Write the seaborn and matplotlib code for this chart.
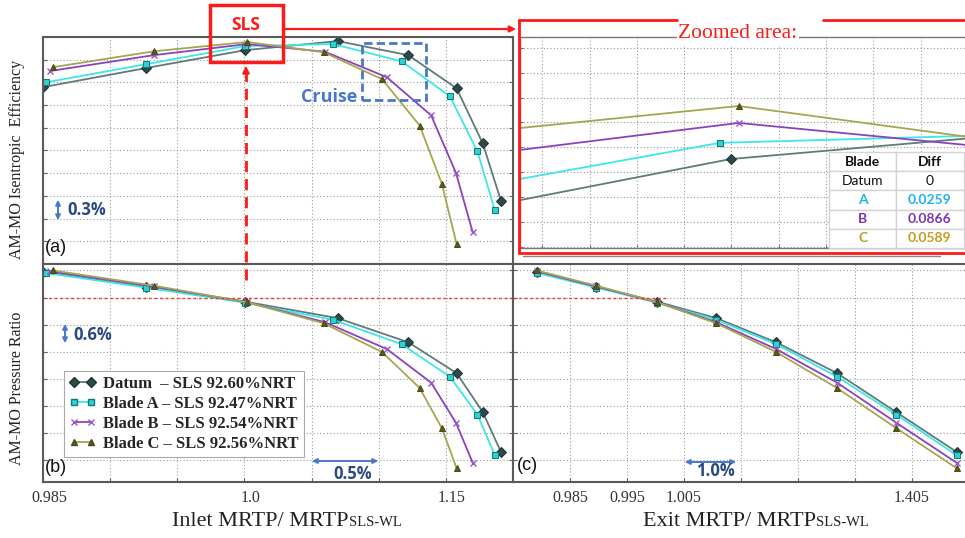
import numpy as np
import pandas as pd
import matplotlib
matplotlib.use("Agg")
import matplotlib.pyplot as plt
import matplotlib.transforms as mtransforms
import seaborn as sns
from matplotlib.lines import Line2D
from matplotlib.patches import Rectangle, FancyArrowPatch

sns.set_theme(style="white")
plt.rcParams['font.family'] = ['Liberation Serif', 'DejaVu Serif']

W, H = 965, 538

# ---- data (in grid units) ----
blades = ['Datum', 'Blade A', 'Blade B', 'Blade C']
legend_labels = ['Datum  – SLS 92.60%NRT', 'Blade A – SLS 92.47%NRT',
                 'Blade B – SLS 92.54%NRT', 'Blade C – SLS 92.56%NRT']

# inlet MRTP positions (one gridline = one unit)
inlet_datum = [0.00, 1.53, 3.01, 4.39, 5.44, 6.16, 6.55, 6.82]
inlet_a = [0.04, 1.53, 3.01, 4.32, 5.34, 6.06, 6.47, 6.73]
inlet_b = [0.10, 1.65, 3.04, 4.20, 5.12, 5.78, 6.15, 6.40]
inlet_c = [0.15, 1.65, 3.04, 4.18, 5.05, 5.61, 5.94, 6.16]
# exit MRTP positions
exit_pos = [0.42, 1.46, 2.53, 3.57, 4.62, 5.69, 6.73, 7.79]

# isentropic efficiency
eff_datum = [7.79, 8.63, 9.42, 9.82, 9.20, 7.74, 5.31, 2.79]
eff_a = [8.00, 8.80, 9.60, 9.69, 8.93, 7.39, 4.96, 2.36]
eff_b = [8.50, 9.20, 9.69, 9.35, 8.23, 6.55, 4.02, 1.40]
eff_c = [8.67, 9.37, 9.78, 9.33, 8.14, 6.10, 3.54, 0.88]

# pressure ratio
pr_datum = [6.95, 6.40, 5.85, 5.24, 4.35, 3.21, 1.77, 0.30]
pr_a = [6.91, 6.37, 5.81, 5.18, 4.28, 3.08, 1.68, 0.18]
pr_b = [6.97, 6.41, 5.83, 5.09, 4.10, 2.86, 1.38, -0.10]
pr_c = [7.00, 6.44, 5.83, 5.05, 3.99, 2.66, 1.18, -0.30]

# zoomed area (SLS point)
zoom_x_datum = [-0.5, 3.98, 9.0]
zoom_x_a = [-0.5, 3.75, 9.0]
zoom_x_b = [-0.5, 4.15, 9.0]
zoom_x_c = [-0.5, 4.15, 9.0]
zoom_datum = [1.87, 3.53, 4.36]
zoom_a = [2.72, 4.18, 4.46]
zoom_b = [3.89, 4.98, 4.09]
zoom_c = [4.77, 5.66, 4.42]

table_blade = ['Datum', 'A', 'B', 'C']
table_diff = ['0', '0.0259', '0.0866', '0.0589']

inlet_ticks = ['0.985', '', '', '1.0', '', '', '1.15', '']
exit_ticks = ['0.985', '0.995', '1.005', '', '', '', '1.405']

# ---- styles ----
styles = {
    'Datum': dict(color='#5f7b7a', marker='D', markersize=5.5, markerfacecolor='#2d4a48', markeredgecolor='#1e3534'),
    'Blade A': dict(color='#3ee6e6', marker='s', markersize=5, markerfacecolor='#33d0d0', markeredgecolor='#0d7c80'),
    'Blade B': dict(color='#8a43bd', marker='x', markersize=5, markeredgewidth=1.0, markeredgecolor='#9a55cc'),
    'Blade C': dict(color='#a6a650', marker='^', markersize=5, markerfacecolor='#5a5a1c', markeredgecolor='#4a4a14'),
}
inlet = dict(zip(blades, [inlet_datum, inlet_a, inlet_b, inlet_c]))
eff = dict(zip(blades, [eff_datum, eff_a, eff_b, eff_c]))
pr = dict(zip(blades, [pr_datum, pr_a, pr_b, pr_c]))
zx = dict(zip(blades, [zoom_x_datum, zoom_x_a, zoom_x_b, zoom_x_c]))
zy = dict(zip(blades, [zoom_datum, zoom_a, zoom_b, zoom_c]))

fig = plt.figure(figsize=(W / 100, H / 100), dpi=100)


def fx(x):
    return x / W


def fy(y):
    return 1 - y / H


def add_ax(x0, y0, x1, y1):
    return fig.add_axes([fx(x0), fy(y1), (x1 - x0) / W, (y1 - y0) / H])


def style_ax(ax, frame='#5a5a5a', lw=1.5):
    ax.grid(True, linestyle=(0, (1, 2)), color='#9a9a9a', linewidth=0.8)
    for s in ax.spines.values():
        s.set_color(frame)
        s.set_linewidth(lw)
    ax.tick_params(direction='in', length=3, width=0.8, color='#666',
                   left=True, right=True, bottom=True, labelsize=11.5,
                   labelcolor='#333')


ax_a = add_ax(43, 37, 513, 264)
ax_b = add_ax(43, 264, 513, 482)
ax_c = add_ax(513, 264, 968, 482)
ax_z = add_ax(520, 37, 968, 248)

for b in blades:
    kw = styles[b]
    sns.lineplot(x=inlet[b], y=eff[b], ax=ax_a, sort=False, estimator=None,
                 linewidth=1.3, legend=False, **kw)
    sns.lineplot(x=inlet[b], y=pr[b], ax=ax_b, sort=False, estimator=None,
                 linewidth=1.3, legend=False, **kw)
    sns.lineplot(x=exit_pos, y=pr[b], ax=ax_c, sort=False, estimator=None,
                 linewidth=1.3, legend=False, **kw)
    sns.lineplot(x=zx[b], y=zy[b], ax=ax_z, sort=False, estimator=None,
                 linewidth=1.3, legend=False, markevery=[1], **kw)

# panel (a)
style_ax(ax_a)
ax_a.set_xlim(0, 7)
ax_a.set_ylim(0, 10)
ax_a.set_xticks(range(8))
ax_a.set_yticks(range(11))
ax_a.set_xticklabels([])
ax_a.set_yticklabels([])
ax_a.tick_params(bottom=False)

# panel (b)
style_ax(ax_b)
ax_b.set_xlim(0, 7)
ax_b.set_ylim(-0.81, 7.24)
ax_b.set_xticks(range(8))
ax_b.set_xticklabels(inlet_ticks)
ax_b.set_yticks(range(8))
ax_b.set_yticklabels([])
ax_b.tick_params(axis='x', pad=6)
ax_b.axhline(6, color='#ff3030', linestyle=(0, (2, 2)), linewidth=1.0)
for lab in ax_b.get_xticklabels():
    lab.set_transform(lab.get_transform() + mtransforms.ScaledTranslation(0.06, 0, fig.dpi_scale_trans))

# panel (c)
style_ax(ax_c)
ax_c.set_xlim(0, 7.99)
ax_c.set_ylim(-0.81, 7.24)
ax_c.set_xticks(range(1, 8))
ax_c.set_xticklabels(exit_ticks)
ax_c.set_yticks(range(8))
ax_c.set_yticklabels([])
ax_c.tick_params(axis='x', pad=6, right=False)
ax_c.plot([0, 2.68], [6, 6], color='#ff3030', linestyle=(0, (2, 2)), linewidth=1.0)

# zoomed area
style_ax(ax_z, frame='#777777', lw=1.0)
ax_z.set_xlim(-0.47, 9.0)
ax_z.set_ylim(-0.04, 8.43)
ax_z.set_xticks(range(9))
ax_z.set_yticks(range(9))
ax_z.set_xticklabels([])
ax_z.set_yticklabels([])
ax_z.tick_params(length=2)

tbl = ax_z.table(cellText=[['Blade', 'Diff']] + [[b, d] for b, d in zip(table_blade, table_diff)],
                 cellLoc='center', bbox=[0.69, 0.0, 0.30, 0.455], zorder=5)
tbl.auto_set_font_size(False)
txt_colors = ['#111', '#111', '#1fb0f0', '#7a35b0', '#c99a1e']
for (r, c), cell in tbl.get_celld().items():
    cell.set_edgecolor('#d3d3d3')
    cell.set_facecolor('white')
    t = cell.get_text()
    t.set_fontsize(10)
    t.set_fontfamily(['Lato', 'DejaVu Sans'])
    t.set_color(txt_colors[r])
    if r == 0 or r >= 2:
        t.set_fontweight('bold')

# legend
handles = [Line2D([], [], linewidth=1.3, **styles[b]) for b in blades]
leg = ax_b.legend(handles, legend_labels, loc='upper left', bbox_to_anchor=(0.045, 0.51),
                  frameon=True, fancybox=False, edgecolor='#aaaaaa', framealpha=1,
                  prop=dict(family='Liberation Serif', weight='bold', size=12),
                  numpoints=2, handlelength=1.6, handletextpad=0.45, labelspacing=0.25,
                  borderpad=0.3, borderaxespad=0)
leg.get_frame().set_linewidth(0.8)

# axis labels
fig.text(fx(17), fy(159), 'AM-MO Isentropic  Efficiency', rotation=90, ha='center', va='center',
         fontsize=11.5, color='#222')
fig.text(fx(17), fy(388), 'AM-MO Pressure Ratio', rotation=90, ha='center', va='center',
         fontsize=11.5, color='#222')
t1 = fig.text(fx(172), fy(522), 'Inlet MRTP/ MRTP', ha='left', va='center', fontsize=16, color='#222')
ax_b.annotate('SLS-WL', xy=(1, 0.12), xycoords=t1, ha='left', va='bottom', fontsize=10.5, color='#222',
              annotation_clip=False)
t2 = fig.text(fx(643), fy(522), 'Exit MRTP/ MRTP', ha='left', va='center', fontsize=16, color='#222')
ax_c.annotate('SLS-WL', xy=(1, 0.12), xycoords=t2, ha='left', va='bottom', fontsize=10.5, color='#222',
              annotation_clip=False)

# panel letters
for (x, y, s) in [(45, 248, '(a)'), (45, 468, '(b)'), (517, 466, '(c)')]:
    fig.text(fx(x), fy(y), s, ha='left', va='center', fontsize=13,
             family=['Liberation Sans', 'DejaVu Sans'], color='#111')

# blue scale annotations
blue = '#4a78c8'
navy = '#2b4a80'
sans = ['Open Sans', 'DejaVu Sans']


def darrow(x0, y0, x1, y1):
    fig.add_artist(FancyArrowPatch((fx(x0), fy(y0)), (fx(x1), fy(y1)), transform=fig.transFigure,
                                   arrowstyle='<|-|>', mutation_scale=7, color=blue, linewidth=1.4))


darrow(58, 197, 58, 223)
fig.text(fx(67), fy(210), '0.3%', ha='left', va='center', fontsize=12, weight='bold', color=navy, family=sans)
darrow(65, 321, 65, 346)
fig.text(fx(73), fy(335), '0.6%', ha='left', va='center', fontsize=12, weight='bold', color=navy, family=sans)
darrow(309, 461, 381, 461)
fig.text(fx(353), fy(474), '0.5%', ha='center', va='center', fontsize=12, weight='bold', color=navy, family=sans)
darrow(682, 462, 739, 462)
fig.text(fx(715), fy(471), '1.0%', ha='center', va='center', fontsize=12, weight='bold', color=navy, family=sans)

# Cruise box
fig.add_artist(Rectangle((fx(362), fy(100)), (426 - 362) / W, (100 - 43) / H, transform=fig.transFigure,
                         fill=False, edgecolor=blue, linewidth=2, linestyle=(0, (3, 1.5))))
fig.text(fx(357), fy(97), 'Cruise', ha='right', va='center', fontsize=13, weight='bold', color=blue, family=sans)

# SLS box and red connectors
red = '#ff1a1a'
fig.add_artist(Rectangle((fx(210), fy(62)), (283 - 210) / W, (62 - 5) / H, transform=fig.transFigure,
                         fill=False, edgecolor=red, linewidth=2.5, zorder=10))
fig.text(fx(246), fy(25), 'SLS', ha='center', va='center', fontsize=12.5, weight='bold', color=red, family=sans)
fig.add_artist(FancyArrowPatch((fx(283), fy(29)), (fx(519), fy(29)), transform=fig.transFigure,
                               arrowstyle='-|>', mutation_scale=9, color=red, linewidth=1.6))
fig.add_artist(Line2D([fx(246), fx(246)], [fy(280), fy(72)], transform=fig.transFigure, color=red,
                      linewidth=2, linestyle=(0, (4, 2.5)), zorder=10))
fig.add_artist(FancyArrowPatch((fx(246), fy(74)), (fx(246), fy(63)), transform=fig.transFigure,
                               arrowstyle='-|>', mutation_scale=10, color=red, linewidth=1.5, zorder=10))

# zoomed area frame
for xs, ys in [([519, 677], [20, 20]), ([823, 966], [20, 20]), ([519, 519], [20, 253]), ([519, 966], [253, 253])]:
    fig.add_artist(Line2D([fx(v) for v in xs], [fy(v) for v in ys], transform=fig.transFigure,
                          color=red, linewidth=2, zorder=10))
fig.add_artist(Line2D([fx(523), fx(940)], [fy(256), fy(256)], transform=fig.transFigure,
                      color='#888', linewidth=1))
fig.text(fx(738), fy(34), 'Zoomed area:', ha='center', va='center', fontsize=15.5, color=red, zorder=12,
         bbox=dict(facecolor='white', edgecolor='none', pad=1))

fig.savefig('out.png', dpi=100)
